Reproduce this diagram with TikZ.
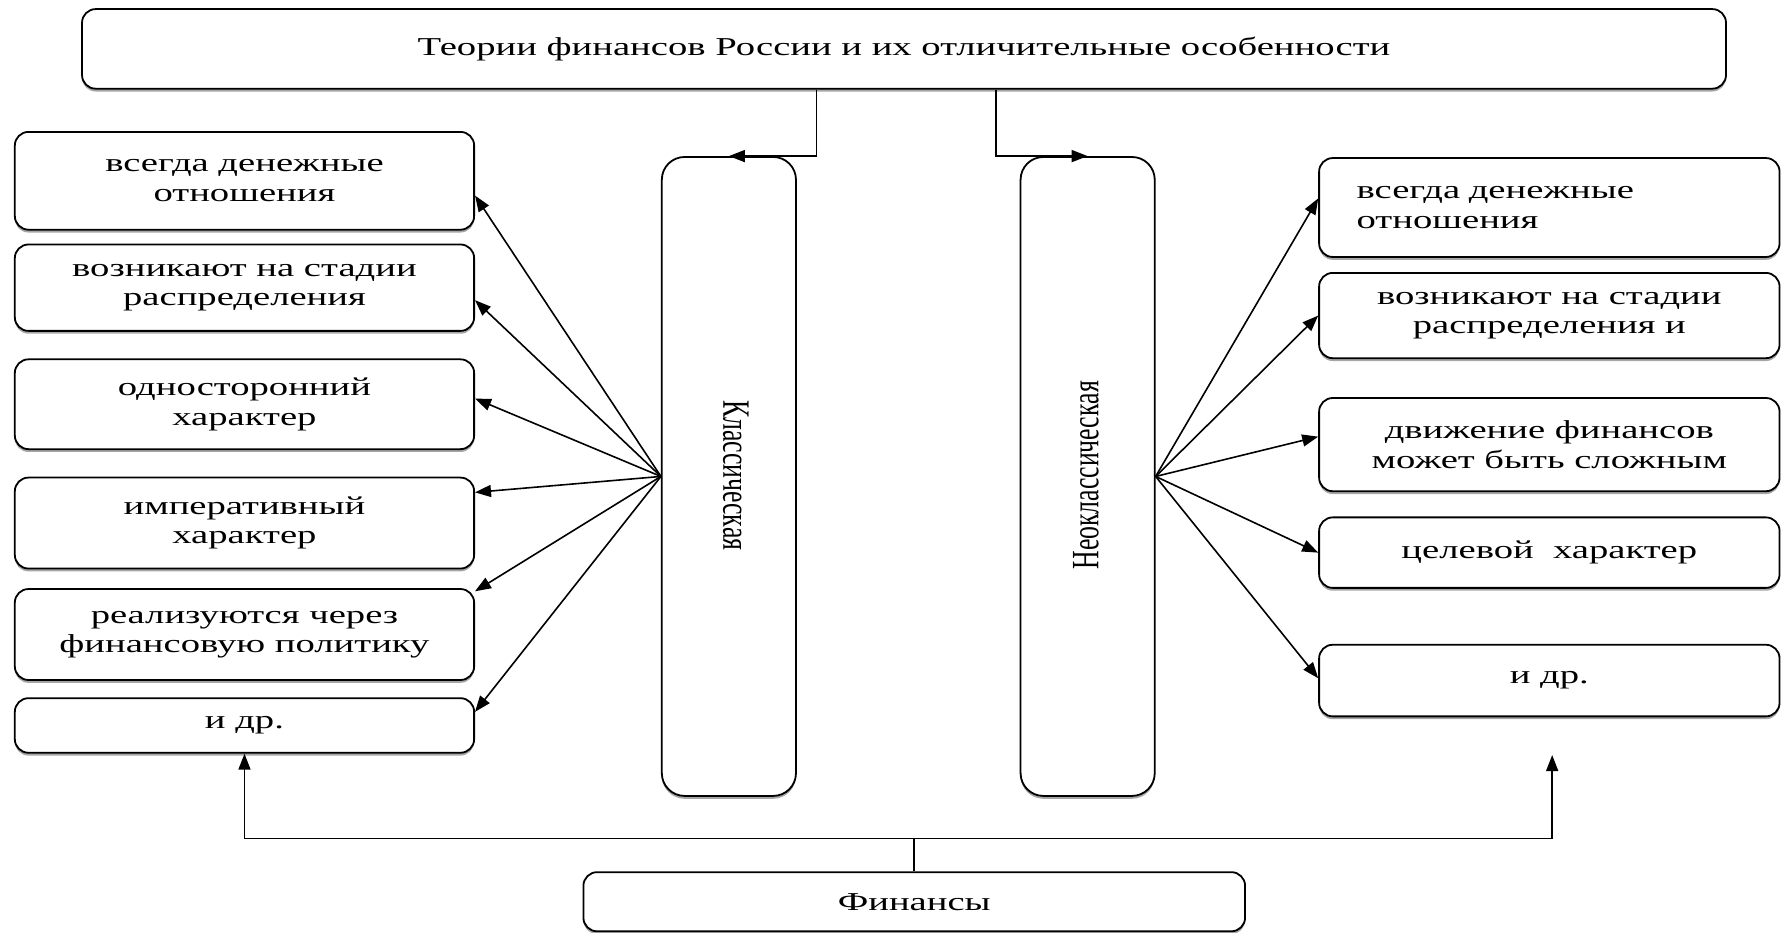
\documentclass[tikz,border=0pt]{standalone}
\usepackage{fontspec}
\setmainfont{Liberation Serif}
\newfontfamily\bx[FakeStretch=1.5]{Liberation Serif}
\usetikzlibrary{arrows.meta,calc,shadows}
\begin{document}
\begin{tikzpicture}[x=0.02cm,y=-0.02cm,
  box/.style={draw, line width=0.9pt, rounded corners=0.24cm, fill=white, align=center, inner sep=0pt,
    font=\bx\fontsize{12.9}{14.8}\selectfont,
    drop shadow={shadow xshift=0pt, shadow yshift=-0.05cm, fill=black!35, opacity=1}},
  lbox/.style={box, minimum width=8.08cm},
  rbox/.style={box, minimum width=8.1cm},
  tall/.style={box, minimum width=2.36cm, minimum height=11.24cm, rounded corners=0.4cm},
  vtext/.style={inner sep=0pt, font=\fontsize{12.9}{14.8}\selectfont},
  arr/.style={line width=0.8pt, -{Triangle[length=8pt,width=6pt]}},
  ln/.style={line width=0.8pt}]
\useasboundingbox (0,0) rectangle (1568,820);

\node[box, minimum width=28.92cm, minimum height=1.4cm] (t) at (795,43) {Теории финансов России и их отличительные особенности};

\node[tall] (kl) at (641,419) {};
\node[tall] (kn) at (956.5,419) {};
\node[vtext, rotate=-90] (klt) at (647,418) {\scalebox{1}[1.5]{Классическая}};
\node[vtext, rotate=90] (knt) at (955,418) {\scalebox{1}[1.5]{Неоклассическая}};

\node[lbox, minimum height=1.72cm] (l1) at (215,159) {всегда денежные\\отношения};
\node[lbox, minimum height=1.52cm] (l2) at (215,253) {возникают на стадии\\распределения};
\node[lbox, minimum height=1.58cm] (l3) at (215,355.5) {односторонний\\характер};
\node[lbox, minimum height=1.6cm] (l4) at (215,460) {императивный\\характер};
\node[lbox, minimum height=1.6cm] (l5) at (215,558) {реализуются через\\финансовую политику};
\node[lbox, minimum height=0.96cm] (l6) at (215,638) {и др.};

\node[rbox, minimum height=1.74cm, text width=6.78cm, inner xsep=0.66cm, align=left] (r1) at (1362.5,182.5) {всегда денежные\\отношения};
\node[rbox, minimum height=1.5cm] (r2) at (1362.5,277.5) {возникают на стадии\\распределения и};
\node[rbox, minimum height=1.64cm] (r3) at (1362.5,391) {движение финансов\\может быть сложным};
\node[rbox, minimum height=1.24cm] (r4) at (1362.5,486) {целевой~ характер};
\node[rbox, minimum height=1.26cm] (r5) at (1362.5,598.5) {и др.};

\node[box, minimum width=11.64cm, minimum height=1.04cm] (f) at (804,793) {Финансы};

% top connectors
\draw[arr] ([xshift=-1.54cm]t.south) |- (kl.north);
\draw[arr] ([xshift=1.62cm]t.south) |- (kn.north);

% left fan
\draw[arr] (kl.west) -- ($(l1.east)+(0,13)$);
\draw[arr] (kl.west) -- ($(l2.east)+(0,11)$);
\draw[arr] (kl.west) -- ($(l3.east)+(0,-5)$);
\draw[arr] (kl.west) -- ($(l4.east)+(0,-27)$);
\draw[arr] (kl.west) -- ($(l5.east)+(0,-38)$);
\draw[arr] (kl.west) -- ($(l6.east)+(0,-12)$);

% right fan
\draw[arr] (kn.east) -- ($(r1.west)+(0,-8)$);
\draw[arr] (kn.east) -- ($(r2.west)+(0,0)$);
\draw[arr] (kn.east) -- ($(r3.west)+(0,-7)$);
\draw[arr] (kn.east) -- ($(r4.west)+(0,0)$);
\draw[arr] (kn.east) -- ($(r5.west)+(0,-2)$);

% bottom
\coordinate (j) at ($(f.north)+(0,-29)$);
\coordinate (rend) at (1365,664);
\draw[ln] (f.north) -- (j);
\draw[arr] (j) -| (l6.south);
\draw[arr] (j) -| (rend);
\end{tikzpicture}
\end{document}
